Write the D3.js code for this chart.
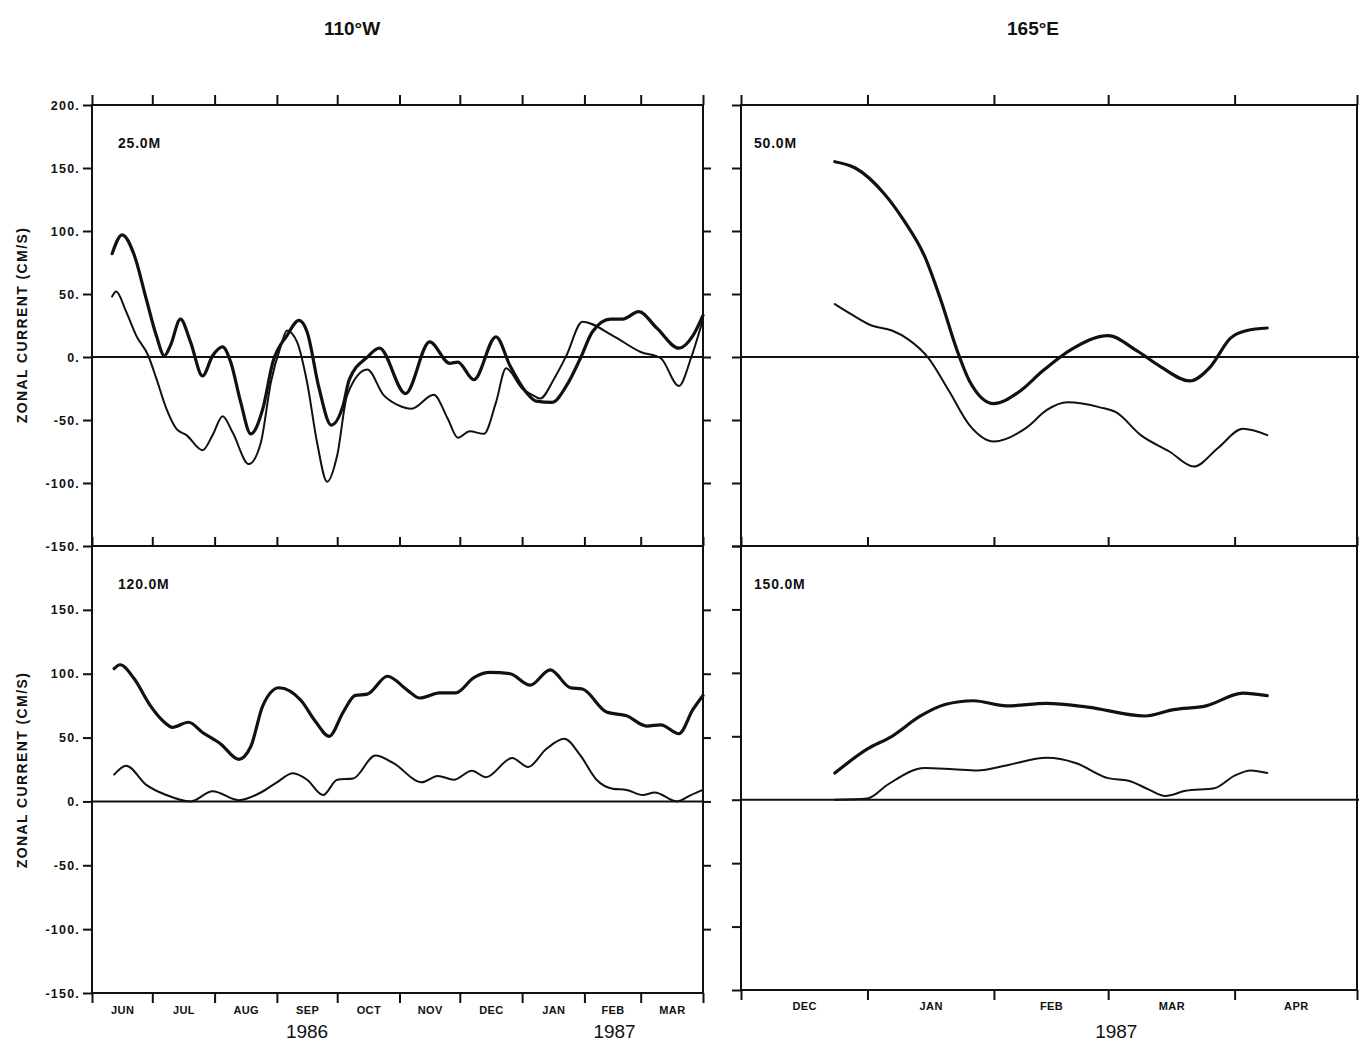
<!DOCTYPE html>
<html>
<head>
<meta charset="utf-8">
<script src="https://cdn.jsdelivr.net/npm/d3@7"></script>
<style>
  html, body { margin: 0; padding: 0; background: #fff; }
  svg { display: block; }
  text { font-family: "Liberation Sans", Arial, sans-serif; fill: #111; }
</style>
</head>
<body>
<svg id="chart" width="1359" height="1043"></svg>
<script>
// ---------------- DATA ----------------
const stationTitles = ["110°W", "165°E"];
const depthLabels = ["25.0M", "120.0M", "50.0M", "150.0M"];
const yAxisTitle = "ZONAL CURRENT (CM/S)";
const yTicks = [200, 150, 100, 50, 0, -50, -100, -150];

const leftMonthStarts = ["1986-06-01","1986-07-01","1986-08-01","1986-09-01","1986-10-01","1986-11-01",
                         "1986-12-01","1987-01-01","1987-02-01","1987-03-01","1987-04-01"];
const leftMonthLabels = ["JUN","JUL","AUG","SEP","OCT","NOV","DEC","JAN","FEB","MAR"];
const rightMonthStarts = ["1986-12-01","1987-01-01","1987-02-01","1987-03-01","1987-04-01","1987-05-01"];
const rightMonthLabels = ["DEC","JAN","FEB","MAR","APR"];
const yearLabelsLeft = [["1986", "1986-09-16"], ["1987", "1987-02-16"]];
const yearLabelsRight = [["1987", "1987-03-03"]];

// 110°W, 25 m
const w25Thick = [["1986-06-11",82],["1986-06-16",97],["1986-06-22",81],["1986-06-28",46],["1986-07-03",17],
  ["1986-07-07",1],["1986-07-10",9],["1986-07-15",30],["1986-07-20",12],["1986-07-26",-15],["1986-07-31",1],
  ["1986-08-05",8],["1986-08-09",-4],["1986-08-14",-36],["1986-08-19",-61],["1986-08-25",-41],["1986-08-30",-4],
  ["1986-09-06",17],["1986-09-12",29],["1986-09-16",20],["1986-09-22",-25],["1986-09-28",-54],["1986-10-04",-38],
  ["1986-10-07",-18],["1986-10-16",0],["1986-10-22",7],["1986-11-04",-29],["1986-11-16",12],["1986-11-26",-5],
  ["1986-11-30",-4],["1986-12-08",-18],["1986-12-19",16],["1986-12-26",-7],["1987-01-03",-28],["1987-01-08",-35],
  ["1987-01-16",-36],["1987-01-23",-23],["1987-01-30",-1],["1987-02-05",20],["1987-02-14",30],["1987-02-20",30],
  ["1987-02-28",36],["1987-03-09",23],["1987-03-20",7],["1987-03-27",17],["1987-04-01",33]];
const w25Thin = [["1986-06-11",48],["1986-06-13",52],["1986-06-18",36],["1986-06-23",17],["1986-06-29",1],
  ["1986-07-03",-17],["1986-07-08",-41],["1986-07-13",-57],["1986-07-18",-62],["1986-07-26",-74],["1986-07-31",-62],
  ["1986-08-05",-47],["1986-08-10",-60],["1986-08-18",-85],["1986-08-24",-68],["1986-08-29",-20],["1986-09-03",9],
  ["1986-09-06",21],["1986-09-11",12],["1986-09-16",-20],["1986-09-21",-68],["1986-09-26",-99],["1986-10-01",-78],
  ["1986-10-06",-30],["1986-10-16",-10],["1986-10-24",-30],["1986-10-31",-38],["1986-11-07",-41],["1986-11-18",-30],
  ["1986-11-25",-49],["1986-11-30",-64],["1986-12-06",-59],["1986-12-13",-61],["1986-12-19",-36],["1986-12-24",-9],
  ["1987-01-01",-25],["1987-01-06",-30],["1987-01-10",-33],["1987-01-17",-17],["1987-01-23",1],["1987-01-31",28],
  ["1987-02-15",17],["1987-03-01",4],["1987-03-11",-1],["1987-03-20",-23],["1987-03-26",-1],["1987-04-01",30]];

// 110°W, 120 m
const w120Thick = [["1986-06-12",104],["1986-06-15",107],["1986-06-22",96],["1986-06-30",75],["1986-07-07",62],
  ["1986-07-11",58],["1986-07-19",62],["1986-07-26",54],["1986-08-04",45],["1986-08-13",33],["1986-08-19",43],
  ["1986-08-25",75],["1986-09-02",89],["1986-09-13",79],["1986-09-20",63],["1986-09-27",51],["1986-10-04",70],
  ["1986-10-10",83],["1986-10-16",84],["1986-10-26",98],["1986-11-05",87],["1986-11-11",81],["1986-11-21",85],
  ["1986-11-29",85],["1986-12-08",97],["1986-12-16",101],["1986-12-26",100],["1987-01-05",91],["1987-01-15",103],
  ["1987-01-25",89],["1987-01-31",88],["1987-02-12",70],["1987-02-22",67],["1987-03-04",59],["1987-03-11",60],
  ["1987-03-20",53],["1987-03-27",72],["1987-04-01",83]];
const w120Thin = [["1986-06-12",21],["1986-06-18",28],["1986-06-28",13],["1986-07-08",5],["1986-07-20",0],
  ["1986-07-31",8],["1986-08-13",1],["1986-08-24",7],["1986-09-01",15],["1986-09-09",22],["1986-09-16",17],
  ["1986-09-24",5],["1986-10-01",17],["1986-10-09",18],["1986-10-20",36],["1986-10-29",30],["1986-11-12",15],
  ["1986-11-20",20],["1986-11-28",17],["1986-12-07",24],["1986-12-14",19],["1986-12-27",34],["1987-01-04",27],
  ["1987-01-13",41],["1987-01-22",49],["1987-01-30",36],["1987-02-07",17],["1987-02-15",10],["1987-02-22",9],
  ["1987-03-02",5],["1987-03-08",7],["1987-03-19",0],["1987-03-26",5],["1987-04-01",9]];

// 165°E, 50 m
const e50Upper = [["1986-12-24",155],["1986-12-29",150],["1987-01-05",130],["1987-01-10",108],["1987-01-15",80],
  ["1987-01-19",45],["1987-01-23",5],["1987-01-26",-19],["1987-02-01",-37],["1987-02-07",-28],["1987-02-13",-11],
  ["1987-02-20",6],["1987-03-01",17],["1987-03-08",5],["1987-03-14",-8],["1987-03-21",-19],["1987-03-26",-8],
  ["1987-03-31",15],["1987-04-04",21],["1987-04-09",23]];
const e50Lower = [["1986-12-24",42],["1986-12-28",34],["1987-01-02",25],["1987-01-07",21],["1987-01-11",14],
  ["1987-01-16",-1],["1987-01-21",-27],["1987-01-26",-54],["1987-02-01",-67],["1987-02-09",-56],["1987-02-14",-42],
  ["1987-02-19",-36],["1987-02-27",-40],["1987-03-03",-44],["1987-03-09",-62],["1987-03-16",-75],["1987-03-22",-87],
  ["1987-03-28",-72],["1987-04-03",-57],["1987-04-09",-62]];

// 165°E, 150 m
const e150Upper = [["1986-12-24",21],["1987-01-01",40],["1987-01-07",50],["1987-01-14",66],["1987-01-20",75],
  ["1987-01-27",78],["1987-02-04",74],["1987-02-14",76],["1987-02-24",73],["1987-03-10",66],["1987-03-17",71],
  ["1987-03-25",74],["1987-04-03",84],["1987-04-09",82]];
const e150Lower = [["1986-12-24",0],["1987-01-01",1],["1987-01-06",12],["1987-01-15",25],["1987-01-22",24],
  ["1987-01-28",23],["1987-02-04",27],["1987-02-14",33],["1987-02-21",29],["1987-03-01",17],["1987-03-06",15],
  ["1987-03-11",8],["1987-03-15",3],["1987-03-20",7],["1987-03-27",9],["1987-04-01",19],["1987-04-05",23],
  ["1987-04-09",21]];

// ---------------- DRAW ----------------
const parse = d3.utcParse("%Y-%m-%d");
const svg = d3.select("#chart");
const ink = "#111";

const xL = d3.scaleUtc().domain([parse("1986-06-01"), parse("1987-04-01")]).range([92, 703]);
const xR = d3.scaleUtc().domain([parse("1986-12-01"), parse("1987-05-01")]).range([741, 1357]);

const panels = [
  { x: xL, y: d3.scaleLinear().domain([-150, 200]).range([546, 105]), series: [w25Thick, w25Thin], label: depthLabels[0],
    months: leftMonthStarts, yLabels: yTicks, top: true, left: true },
  { x: xL, y: d3.scaleLinear().domain([-150, 200]).range([993, 546]), series: [w120Thick, w120Thin], label: depthLabels[1],
    months: leftMonthStarts, yLabels: yTicks.filter(v => v < 200), top: false, left: true },
  { x: xR, y: d3.scaleLinear().domain([-150, 200]).range([546, 105]), series: [e50Upper, e50Lower], label: depthLabels[2],
    months: rightMonthStarts, yLabels: null, top: true, left: false },
  { x: xR, y: d3.scaleLinear().domain([-150, 200]).range([990, 546]), series: [e150Upper, e150Lower], label: depthLabels[3],
    months: rightMonthStarts, yLabels: null, top: false, left: false }
];

function styleAxis(g, fs, ls) {
  g.select(".domain").remove();
  g.selectAll(".tick line").attr("stroke", ink).attr("stroke-width", 2);
  g.selectAll(".tick text").attr("font-weight", "bold").attr("font-size", fs || 12.5)
    .attr("letter-spacing", ls == null ? 1.2 : ls).attr("fill", ink)
    .attr("font-family", '"Liberation Sans", Arial, sans-serif');
}

panels.forEach(p => {
  const [x0, x1] = p.x.range();
  const [yb, yt] = p.y.range();
  const g = svg.append("g");
  const monthDates = p.months.map(parse);

  // frame
  g.append("rect").attr("x", x0).attr("y", yt).attr("width", x1 - x0).attr("height", yb - yt)
    .attr("fill", "none").attr("stroke", ink).attr("stroke-width", 2);

  // zero line
  g.append("line").attr("x1", x0).attr("x2", p.left ? x1 : 1359).attr("y1", p.y(0)).attr("y2", p.y(0))
    .attr("stroke", ink).attr("stroke-width", 2);

  // left axis
  const ax = d3.axisLeft(p.y).tickValues(p.yLabels || yTicks).tickSize(9).tickPadding(3)
    .tickFormat(p.yLabels ? (d => d + ".") : "");
  g.append("g").attr("transform", `translate(${x0},0)`).call(ax).call(s => styleAxis(s));
  // right-edge outward ticks for left panels
  if (p.left) {
    g.append("g").attr("transform", `translate(${x1},0)`)
      .call(d3.axisRight(p.y).tickValues(yTicks.filter(v => v < 200 && v > -150)).tickSize(8).tickFormat(""))
      .call(s => styleAxis(s));
  }

  if (p.top) {
    g.append("g").attr("transform", `translate(0,${yt})`)
      .call(d3.axisTop(p.x).tickValues(monthDates).tickSize(10).tickFormat("")).call(s => styleAxis(s));
    g.append("g").attr("transform", `translate(0,${yb})`)
      .call(d3.axisTop(p.x).tickValues(monthDates).tickSize(9).tickFormat("")).call(s => styleAxis(s));
  } else {
    g.append("g").attr("transform", `translate(0,${yb})`)
      .call(d3.axisBottom(p.x).tickValues(monthDates).tickSize(10).tickFormat("")).call(s => styleAxis(s));
    // month labels centred in each month
    const labels = p.left ? leftMonthLabels : rightMonthLabels;
    const mids = labels.map((_, i) => new Date((monthDates[i].getTime() + monthDates[i + 1].getTime()) / 2));
    g.append("g").attr("transform", `translate(0,${yb})`)
      .call(d3.axisBottom(p.x).tickValues(mids).tickSize(0).tickPadding(p.left ? 13 : 12)
        .tickFormat((d, i) => labels[i]))
      .call(s => styleAxis(s, 11, 0.4));
  }

  // series
  const line = d3.line().x(d => p.x(parse(d[0]))).y(d => p.y(d[1])).curve(d3.curveMonotoneX);
  p.series.forEach((s, i) => {
    g.append("path").datum(s).attr("d", line).attr("fill", "none").attr("stroke", ink)
      .attr("stroke-width", i === 0 ? 3.2 : 2).attr("stroke-linejoin", "round").attr("stroke-linecap", "round");
  });

  // depth label
  g.append("text").attr("x", x0 + (p.left ? 26 : 13)).attr("y", yt + 43)
    .attr("font-size", 14).attr("font-weight", "bold").attr("letter-spacing", 0.8).text(p.label);

  // y title
  if (p.left) {
    g.append("text").attr("transform", `translate(27,${p.top ? 325 : 770}) rotate(-90)`)
      .attr("text-anchor", "middle").attr("font-size", 14).attr("font-weight", "bold")
      .attr("letter-spacing", 1.4).text(yAxisTitle);
  }
});

// station titles
[[stationTitles[0], 352], [stationTitles[1], 1033]].forEach(([t, x]) => {
  svg.append("text").attr("x", x).attr("y", 35).attr("text-anchor", "middle")
    .attr("font-family", '"Liberation Sans Narrow", "DejaVu Sans Condensed", sans-serif')
    .attr("font-size", 19).attr("font-weight", "bold").text(t);
});

// year labels
yearLabelsLeft.forEach(([t, d]) => {
  svg.append("text").attr("x", xL(parse(d))).attr("y", 1038).attr("text-anchor", "middle")
    .attr("font-size", 19).text(t);
});
yearLabelsRight.forEach(([t, d]) => {
  svg.append("text").attr("x", xR(parse(d))).attr("y", 1038).attr("text-anchor", "middle")
    .attr("font-size", 19).text(t);
});
</script>
</body>
</html>
